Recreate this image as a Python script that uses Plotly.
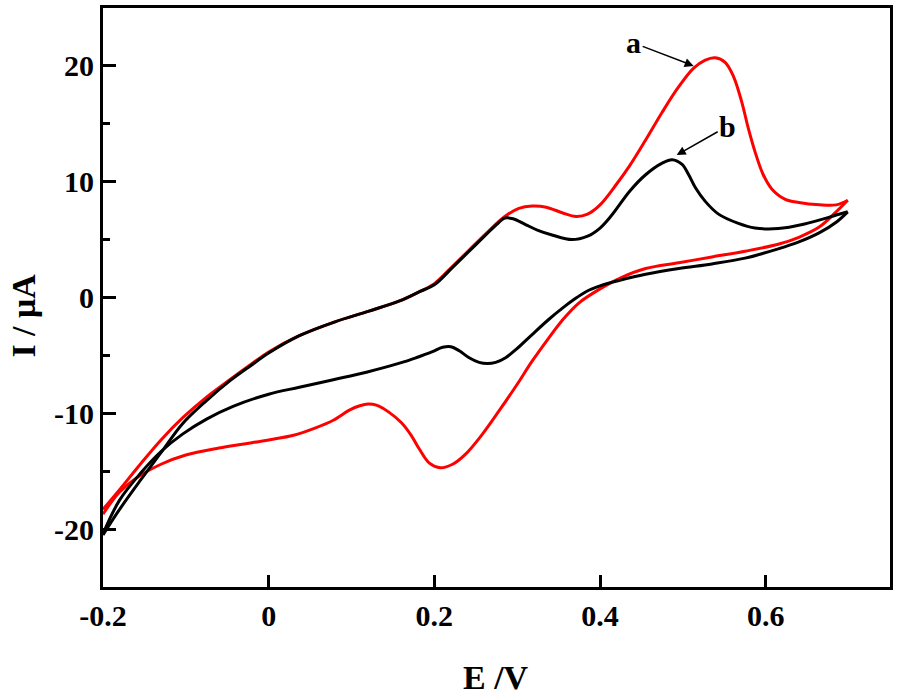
import plotly.graph_objects as go

# ---- data (E in V, I in µA) ----
red_fwd_E = [-0.2, -0.18, -0.155, -0.13, -0.104, -0.075, -0.047, -0.02, 0.0, 0.037, 0.08, 0.12, 0.158, 0.182,
             0.2, 0.222, 0.242, 0.262, 0.285, 0.302, 0.318, 0.335, 0.355, 0.371, 0.385, 0.4, 0.42, 0.435,
             0.455, 0.475, 0.495, 0.513, 0.527, 0.539, 0.551, 0.561, 0.571, 0.579, 0.587, 0.597, 0.607,
             0.623, 0.64, 0.665, 0.685, 0.699]
red_fwd_I = [-18.3, -16.6, -14.4, -12.3, -10.4, -8.6, -7.1, -5.7, -4.7, -3.3, -2.1, -1.2, -0.3, 0.5,
             1.2, 2.7, 4.1, 5.5, 7.0, 7.7, 7.9, 7.8, 7.3, 7.0, 7.2, 8.0, 9.8, 11.3,
             13.6, 16.0, 18.2, 19.8, 20.5, 20.7, 20.3, 19.1, 16.9, 14.6, 12.6, 10.6, 9.4,
             8.5, 8.2, 8.0, 8.0, 8.4]
red_rev_E = [0.699, 0.685, 0.665, 0.64, 0.615, 0.575, 0.535, 0.495, 0.455, 0.425, 0.399, 0.374, 0.354,
             0.338, 0.318, 0.299, 0.278, 0.258, 0.238, 0.222, 0.207, 0.194, 0.182, 0.172, 0.16, 0.145,
             0.13, 0.12, 0.11, 0.098, 0.078, 0.055, 0.03, 0.0, -0.03, -0.06, -0.1, -0.13, -0.16, -0.18, -0.2]
red_rev_I = [8.4, 7.4, 6.1, 5.2, 4.6, 4.0, 3.5, 3.0, 2.5, 1.7, 0.7, -0.5, -2.0,
             -3.5, -5.5, -7.6, -9.8, -11.8, -13.5, -14.4, -14.7, -14.3, -13.1, -11.9, -10.8, -9.9,
             -9.3, -9.2, -9.35, -9.7, -10.6, -11.3, -11.9, -12.3, -12.65, -13.0, -13.6, -14.4, -15.6, -16.8, -18.7]

blk_fwd_E = [-0.2, -0.18, -0.155, -0.13, -0.104, -0.075, -0.047, -0.02, 0.0, 0.037, 0.08, 0.12, 0.158, 0.182,
             0.2, 0.222, 0.242, 0.262, 0.275, 0.285, 0.295, 0.31, 0.325, 0.342, 0.366, 0.385, 0.4, 0.414,
             0.436, 0.455, 0.475, 0.487, 0.499, 0.507, 0.515, 0.527, 0.543, 0.567, 0.587, 0.615, 0.647,
             0.675, 0.699]
blk_fwd_I = [-20.5, -18.3, -15.8, -13.4, -10.9, -8.9, -7.2, -5.8, -4.8, -3.3, -2.1, -1.2, -0.3, 0.5,
             1.1, 2.6, 4.0, 5.4, 6.3, 6.85, 6.8, 6.3, 5.8, 5.4, 5.0, 5.3, 6.0, 7.1,
             9.2, 10.6, 11.6, 11.9, 11.5, 10.6, 9.5, 8.3, 7.2, 6.4, 6.0, 5.95, 6.35,
             6.9, 7.4]
blk_rev_E = [0.699, 0.685, 0.665, 0.64, 0.615, 0.575, 0.535, 0.495, 0.455, 0.425, 0.4, 0.383, 0.368,
             0.355, 0.338, 0.318, 0.3, 0.286, 0.274, 0.264, 0.254, 0.242, 0.23, 0.22, 0.21, 0.197,
             0.178, 0.159, 0.118, 0.078, 0.037, 0.0, -0.043, -0.075, -0.104, -0.13, -0.155, -0.18, -0.2]
blk_rev_I = [7.4, 6.5, 5.6, 4.8, 4.2, 3.4, 2.9, 2.5, 2.0, 1.5, 1.0, 0.5, -0.2,
             -0.9, -1.9, -3.2, -4.4, -5.2, -5.6, -5.7, -5.6, -5.2, -4.6, -4.25, -4.3, -4.7,
             -5.2, -5.65, -6.45, -7.1, -7.75, -8.35, -9.4, -10.5, -11.8, -13.3, -15.2, -17.5, -20.4]

x_ticks = [-0.2, 0, 0.2, 0.4, 0.6]
x_tick_labels = ["-0.2", "0", "0.2", "0.4", "0.6"]
y_ticks = [-20, -10, 0, 10, 20]
y_tick_labels = ["-20", "-10", "0", "10", "20"]

FONT = "Liberation Serif"

fig = go.Figure()
for E, I, col in [(red_fwd_E, red_fwd_I, "#ff0000"), (red_rev_E, red_rev_I, "#ff0000"),
                  (blk_fwd_E, blk_fwd_I, "#000000"), (blk_rev_E, blk_rev_I, "#000000")]:
    fig.add_trace(go.Scatter(x=E, y=I, mode="lines",
                             line=dict(color=col, width=3, shape="spline", smoothing=1.0),
                             showlegend=False, hoverinfo="skip"))

axis_common = dict(showline=True, linecolor="black", linewidth=3, mirror=True,
                   ticks="inside", tickwidth=2.5, tickcolor="black", showgrid=False, zeroline=False,
                   tickfont=dict(family=FONT, size=30, color="black", weight="bold"))

fig.update_xaxes(range=[-0.2, 0.75], tickvals=x_ticks, ticktext=x_tick_labels, ticklen=12, **axis_common)
fig.update_yaxes(range=[-25, 25], tickvals=y_ticks, ticktext=y_tick_labels, ticklen=13,
                 minor=dict(ticks="inside", tickvals=[-15, -5, 5, 15], ticklen=7, tickwidth=2.5,
                            tickcolor="black", showgrid=False),
                 **axis_common)

fig.add_annotation(x=0.513, y=20.0, ax=-60, ay=-23, text="a", showarrow=True,
                   arrowhead=2, arrowsize=1.2, arrowwidth=1.5, arrowcolor="black", standoff=0,
                   font=dict(family=FONT, size=30, color="black", weight="bold"))
fig.add_annotation(x=0.4925, y=12.3, ax=51, ay=-29, text="b", showarrow=True,
                   arrowhead=2, arrowsize=1.2, arrowwidth=1.5, arrowcolor="black", standoff=0,
                   font=dict(family=FONT, size=30, color="black", weight="bold"))

# axis titles
fig.add_annotation(xref="paper", yref="paper", x=(497 - 103) / 789, y=(587 - 678) / 582,
                   text="E /V", showarrow=False, xanchor="center", yanchor="middle",
                   font=dict(family=FONT, size=34, color="black", weight="bold"))
fig.add_annotation(xref="paper", yref="paper", x=(23 - 103) / 789, y=(587 - 314) / 582,
                   text="I / μA", showarrow=False, textangle=-90, xanchor="center", yanchor="middle",
                   font=dict(family=FONT, size=34, color="black", weight="bold"))

fig.update_layout(width=898, height=697, plot_bgcolor="white", paper_bgcolor="white",
                  margin=dict(l=103, r=6, t=5, b=110))

fig.write_html("out.html", config={"displayModeBar": False},
               post_script="document.body.style.margin='0';document.body.style.overflow='hidden';")
